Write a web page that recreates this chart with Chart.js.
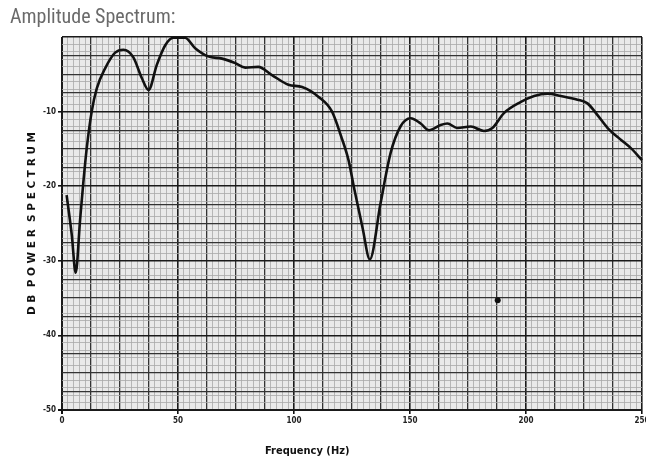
<!DOCTYPE html>
<html><head><meta charset="utf-8">
<script src="https://cdn.jsdelivr.net/npm/chart.js@4.4.1/dist/chart.umd.min.js"></script>
<style>html,body{margin:0;padding:0;background:#fff}#wrap{width:646px;height:461px}</style>
</head><body><div id="wrap"><canvas id="c" width="646" height="461"></canvas></div>
<script>
const freqHz = [2,4.2,5.9,7.8,9.2,10.7,12.8,15,18.6,22.9,26.5,30.7,34.4,37.3,40.9,44.5,48,53,57.4,63,69,74.7,79,84.6,90.5,97.6,103.5,110.5,116.4,120.3,123.5,125.8,129.5,132.7,137.3,141.6,145.9,150.3,154.6,158.2,163.2,166.1,170.4,176.2,181.9,185.5,190.5,197.8,203.5,209.3,215,222.2,226.5,230.9,235.2,241,245.2,250];
const powerDb = [-21.2,-26.5,-31.6,-24.5,-19.5,-14.8,-10,-6.9,-4.2,-2.1,-1.7,-2.7,-5.5,-7.1,-3.7,-1.1,-0.1,-0.1,-1.5,-2.6,-2.9,-3.5,-4.1,-4.0,-5.1,-6.4,-6.7,-8.0,-10,-13.3,-16.5,-20.1,-25.5,-29.8,-22.3,-15.6,-12.0,-10.9,-11.6,-12.5,-11.8,-11.6,-12.2,-12.0,-12.6,-12.2,-10.2,-8.7,-7.9,-7.6,-7.9,-8.4,-8.9,-10.5,-12.2,-13.8,-14.9,-16.5];
const speckHz = [187.8];
const speckDb = [-35.3];
const xTickLabels = [0,50,100,150,200,250];
const yTickLabels = [-10,-20,-30,-40,-50];

const bgPlugin = {id:'paper', beforeDraw(chart){const {ctx,chartArea:a}=chart;ctx.save();ctx.fillStyle='#e9e9e9';ctx.fillRect(a.left,a.top,a.right-a.left,a.bottom-a.top);ctx.restore();}};

new Chart(document.getElementById('c'), {
  type:'line',
  data:{datasets:[
    {data:freqHz.map((x,i)=>({x,y:powerDb[i]})),borderColor:'#111',borderWidth:2.6,pointRadius:0,cubicInterpolationMode:'monotone',fill:false,clip:4},
    {data:speckHz.map((x,i)=>({x,y:speckDb[i]})),showLine:false,pointRadius:3,pointBackgroundColor:'#111',pointBorderWidth:0}
  ]},
  options:{
    responsive:false,animation:false,
    layout:{padding:{left:10,right:0,top:0,bottom:0}},
    plugins:{legend:{display:false},tooltip:{enabled:false},
      title:{display:true,text:'Amplitude Spectrum:',align:'start',color:'#6a6a6a',
        font:{family:"'Liberation Sans Narrow','Roboto Condensed','Roboto',sans-serif",size:20,weight:'normal'},padding:{top:6,bottom:7}}},
    scales:{
      x:{type:'linear',min:0,max:250,
        afterFit(s){s.height=51;s.paddingRight=4;s.paddingLeft=0;},
        ticks:{stepSize:2.5,autoSkip:false,maxRotation:0,padding:2,color:'#222',
          font:{family:"'DejaVu Sans Condensed','DejaVu Sans',sans-serif",size:8,weight:'bold'},
          callback:v=>xTickLabels.includes(v)?String(v):''},
        grid:{drawTicks:true,tickLength:4,
          tickColor:c=>xTickLabels.includes(c.tick.value)?'#111':'rgba(0,0,0,0)',
          color:c=>{const v=c.tick.value;if(v%50===0)return '#1a1a1a';if(v%12.5===0)return '#333';return '#a8a8a8';},
          lineWidth:c=>{const v=c.tick.value;if(v===0)return 2;if(v%50===0)return 1.6;if(v%12.5===0)return 1.3;return 0.8;}},
        border:{display:false},
        title:{display:true,text:'Frequency (Hz)'+'\u00a0'.repeat(26),color:'#111',
          font:{family:"'Liberation Sans Narrow','DejaVu Sans Condensed',sans-serif",size:11,weight:'bold'},padding:{top:0,bottom:3}}},
      y:{type:'linear',min:-50,max:0,
        afterFit(s){s.width=52;},
        ticks:{stepSize:0.5,autoSkip:false,padding:2,color:'#222',
          font:{family:"'DejaVu Sans Condensed','DejaVu Sans',sans-serif",size:8,weight:'bold'},
          callback:v=>yTickLabels.includes(v)?String(v):''},
        grid:{drawTicks:true,tickLength:4,
          tickColor:c=>yTickLabels.includes(c.tick.value)?'#111':'rgba(0,0,0,0)',
          color:c=>{const v=c.tick.value;if(v%10===0)return '#1a1a1a';if(v%2.5===0)return '#333';if(v%1===0)return '#a8a8a8';return 'rgba(0,0,0,0)';},
          lineWidth:c=>{const v=c.tick.value;if(v===-50)return 2;if(v%10===0)return 1.6;if(v%2.5===0)return 1.2;return 0.8;}},
        border:{display:false},
        title:{display:true,text:'D B  P O W E R  S P E C T R U M',color:'#111',
          font:{family:"'DejaVu Sans',sans-serif",size:10.5,weight:'bold'},padding:{top:16,bottom:0}}}
    }
  },
  plugins:[bgPlugin]
});
</script></body></html>
